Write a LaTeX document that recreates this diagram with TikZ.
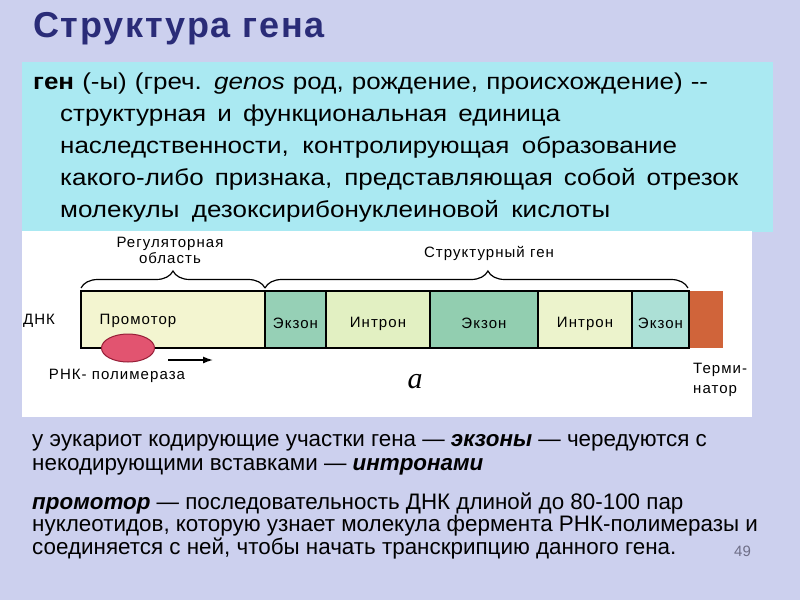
\documentclass[tikz,border=0pt]{standalone}
\usepackage{fontspec}
\setmainfont{Liberation Sans}
\newfontfamily\titlefont[LetterSpace=5]{Liberation Sans}
\newfontfamily\widefont[FakeStretch=1.13]{Liberation Sans}
\newfontfamily\diagfont[LetterSpace=7]{Liberation Sans}
\newfontfamily\serifit{Liberation Serif}
\usetikzlibrary{decorations.pathreplacing,arrows.meta,shapes.geometric}
\definecolor{bgcol}{RGB}{204,208,238}
\definecolor{titlecol}{RGB}{42,44,120}
\definecolor{cyanbox}{RGB}{170,233,242}
\definecolor{regcol}{RGB}{243,245,208}
\definecolor{exonA}{RGB}{150,208,182}
\definecolor{intronA}{RGB}{226,240,194}
\definecolor{exonB}{RGB}{146,206,176}
\definecolor{intronB}{RGB}{236,243,204}
\definecolor{exonC}{RGB}{172,224,214}
\definecolor{termcol}{RGB}{208,100,58}
\definecolor{polcol}{RGB}{226,84,112}
\definecolor{poldark}{RGB}{150,30,55}
\definecolor{pagenum}{RGB}{110,110,135}
\newcommand\spreadline[2]{\makebox[#1pt][s]{#2}}
\begin{document}
\begin{tikzpicture}[x=1pt,y=-1pt,
  seg/.style={draw=black, line width=1.8pt, inner sep=0pt, outer sep=0pt, anchor=north west, minimum height=57pt},
  dlabel/.style={font=\diagfont\fontsize{15}{17}\selectfont, inner sep=0pt},
  deftext/.style={anchor=base west, inner sep=0pt, font=\widefont\fontsize{23}{27}\selectfont},
  bottext/.style={anchor=base west, inner sep=0pt, font=\fontsize{22.4}{26}\selectfont},
  gbrace/.style={decorate, decoration={brace, amplitude=17pt}, line width=1.2pt}
]
\path[use as bounding box, fill=bgcol] (0,0) rectangle (800,600);

% title
\node[anchor=base west, inner sep=0pt, font=\titlefont\fontsize{36}{42}\selectfont\bfseries, text=titlecol] (title) at (33,37) {Структура гена};

% definition box
\node[fill=cyanbox, inner sep=0pt, minimum width=751pt, minimum height=170pt, anchor=north west] (defbox) at (22,62) {};
\node[deftext] (d1) at (33,89) {\spreadline{675}{\textbf{ген} (-ы) (греч. \textit{genos} род, рождение, происхождение) -{}-}};
\node[deftext] (d2) at (60,121) {\spreadline{500}{структурная и функциональная единица}};
\node[deftext] (d3) at (60,153) {\spreadline{617}{наследственности, контролирующая образование}};
\node[deftext] (d4) at (60,185) {\spreadline{678}{какого-либо признака, представляющая собой отрезок}};
\node[deftext] (d5) at (60,217) {\spreadline{550}{молекулы дезоксирибонуклеиновой кислоты}};

% diagram area
\node[fill=white, inner sep=0pt, minimum width=730pt, minimum height=186pt, anchor=north west] (figarea) at (22,231) {};

% DNA bar
\node[seg, fill=regcol, minimum width=184pt] (reg) at (81,291) {};
\node[seg, fill=exonA, minimum width=61pt] (ex1) at (265,291) {};
\node[seg, fill=intronA, minimum width=104pt] (in1) at (326,291) {};
\node[seg, fill=exonB, minimum width=108pt] (ex2) at (430,291) {};
\node[seg, fill=intronB, minimum width=94pt] (in2) at (538,291) {};
\node[seg, fill=exonC, minimum width=57pt] (ex3) at (632,291) {};
\node[fill=termcol, inner sep=0pt, outer sep=0pt, anchor=north west, minimum width=33pt, minimum height=57pt] (term) at (690,291) {};

\node[dlabel] (dnk) at (39,321) {ДНК};
\node[dlabel] (prom) at (138,321) {Промотор};
\node[dlabel] at (ex1.center) [yshift=-4pt] {Экзон};
\node[dlabel] at (in1.center) [yshift=-4pt] {Интрон};
\node[dlabel] at (ex2.center) [yshift=-4pt] {Экзон};
\node[dlabel] at (in2.center) [yshift=-4pt] {Интрон};
\node[dlabel] at (ex3.center) [yshift=-4pt] {Экзон};

% braces
\coordinate (bA) at (81,288);
\coordinate (bB) at (265,288);
\coordinate (bC) at (688,288);
\draw[gbrace] (bA) -- (bB);
\draw[gbrace, decoration={aspect=0.527}] (bB) -- (bC);
\node[dlabel, align=center, font=\diagfont\fontsize{15}{16}\selectfont] (reglab) at (170,250) {Регуляторная\\область};
\node[dlabel] (strlab) at (489,253) {Структурный ген};

% polymerase
\node[ellipse, draw=poldark, line width=1pt, fill=polcol, minimum width=53pt, minimum height=28pt, inner sep=0pt] (pol) at (128,348) {};
\coordinate (arrS) at (168,360);
\coordinate (arrE) at (213,360);
\draw[line width=1.4pt, -{Latex[length=10pt,width=7pt]}] (arrS) -- (arrE);
\node[dlabel] (pollab) at (117,376) {РНК- полимераза};

\node[inner sep=0pt, font=\serifit\itshape\fontsize{30}{34}\selectfont] (alab) at (415,382) {а};
\node[dlabel, align=left, anchor=west, font=\diagfont\fontsize{15}{20}\selectfont] (termlab) at (693,380) {Терми-\\натор};

% bottom text
\node[bottext] (b1) at (32,446) {у эукариот кодирующие участки гена — \textbf{\textit{экзоны}} — чередуются с};
\node[bottext] (b2) at (32,470) {некодирующими вставками — \textbf{\textit{интронами}}};
\node[bottext] (b3) at (32,509) {\textbf{\textit{промотор}} — последовательность ДНК длиной до 80-100 пар};
\node[bottext] (b4) at (32,531) {нуклеотидов, которую узнает молекула фермента РНК-полимеразы и};
\node[bottext] (b5) at (32,554) {соединяется с ней, чтобы начать транскрипцию данного гена.};
\node[anchor=base west, inner sep=0pt, text=pagenum, font=\fontsize{15}{17}\selectfont] (pg) at (734,556) {49};
\end{tikzpicture}
\end{document}
